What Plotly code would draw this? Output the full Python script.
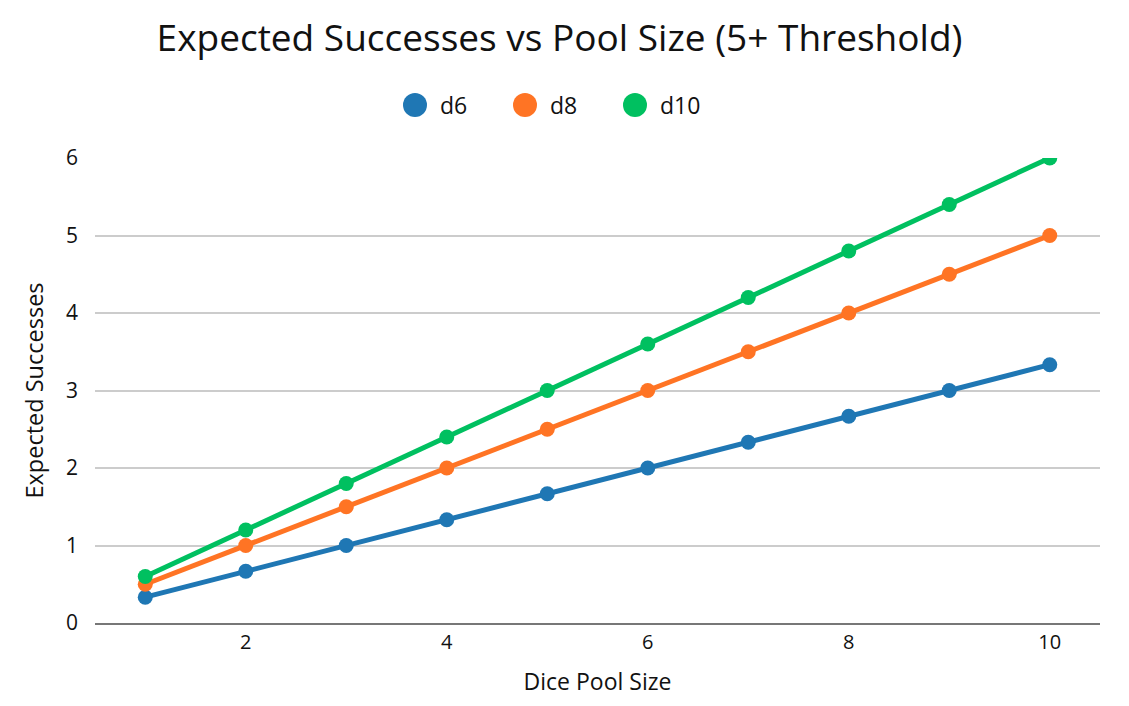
import plotly.graph_objects as go

pool_size = [1, 2, 3, 4, 5, 6, 7, 8, 9, 10]
d6 = [0.333, 0.667, 1.0, 1.333, 1.667, 2.0, 2.333, 2.667, 3.0, 3.333]
d8 = [0.5, 1.0, 1.5, 2.0, 2.5, 3.0, 3.5, 4.0, 4.5, 5.0]
d10 = [0.6, 1.2, 1.8, 2.4, 3.0, 3.6, 4.2, 4.8, 5.4, 6.0]
series_names = ["d6", "d8", "d10"]
colors = ["#1f77b4", "#ff7424", "#00c060"]

fig = go.Figure()
for name, vals, col in zip(series_names, [d6, d8, d10], colors):
    fig.add_trace(go.Scatter(
        x=pool_size, y=vals, name=name, mode="lines+markers",
        line=dict(color=col, width=5),
        marker=dict(color=col, size=15),
        showlegend=False,
    ))

font_main = "Open Sans"

# Custom legend (large circles + labels) in paper coordinates
plot_left, plot_width = 95, 1005
plot_bottom, plot_height = 623, 465
legend_px = [415, 525, 635]
legend_py = 105
for name, col, px in zip(series_names, colors, legend_px):
    xp = (px - plot_left) / plot_width
    yp = (plot_bottom - legend_py) / plot_height
    fig.add_shape(type="circle", xref="paper", yref="paper",
                  xsizemode="pixel", ysizemode="pixel",
                  xanchor=xp, yanchor=yp, x0=-12, x1=12, y0=-12, y1=12,
                  fillcolor=col, line=dict(width=0))
    fig.add_annotation(text=name, xref="paper", yref="paper",
                       x=(px + 23 - plot_left) / plot_width, y=yp,
                       xanchor="left", yanchor="middle", showarrow=False,
                       font=dict(family=font_main, size=23, color="#111"))

fig.update_layout(
    width=1121, height=698,
    margin=dict(l=87, r=29, t=150, b=83),
    paper_bgcolor="white", plot_bgcolor="white",
    showlegend=False,
    title=dict(text="Expected Successes vs Pool Size (5+ Threshold)",
               x=0.492, xanchor="center", y=0.957, yanchor="middle",
               font=dict(family=font_main, size=37, color="#111")),
    xaxis=dict(range=[0.5, 10.5], tickvals=[2, 4, 6, 8, 10], showgrid=False,
               showline=True, linecolor="#777", linewidth=2, zeroline=False,
               tickfont=dict(family=font_main, size=20, color="#111"),
               title=dict(text="Dice Pool Size", font=dict(family=font_main, size=23, color="#111"),
                          standoff=20)),
    yaxis=dict(range=[0, 6], tickvals=[0, 1, 2, 3, 4, 5, 6], showgrid=True,
               gridcolor="#cccccc", gridwidth=1.5, zeroline=False, showline=False,
               ticks="", ticklabelstandoff=16,
               tickfont=dict(family=font_main, size=21, color="#111"),
               title=dict(text="Expected Successes", font=dict(family=font_main, size=23.5, color="#111"),
                          standoff=15)),
)

fig.write_html("out.html")
